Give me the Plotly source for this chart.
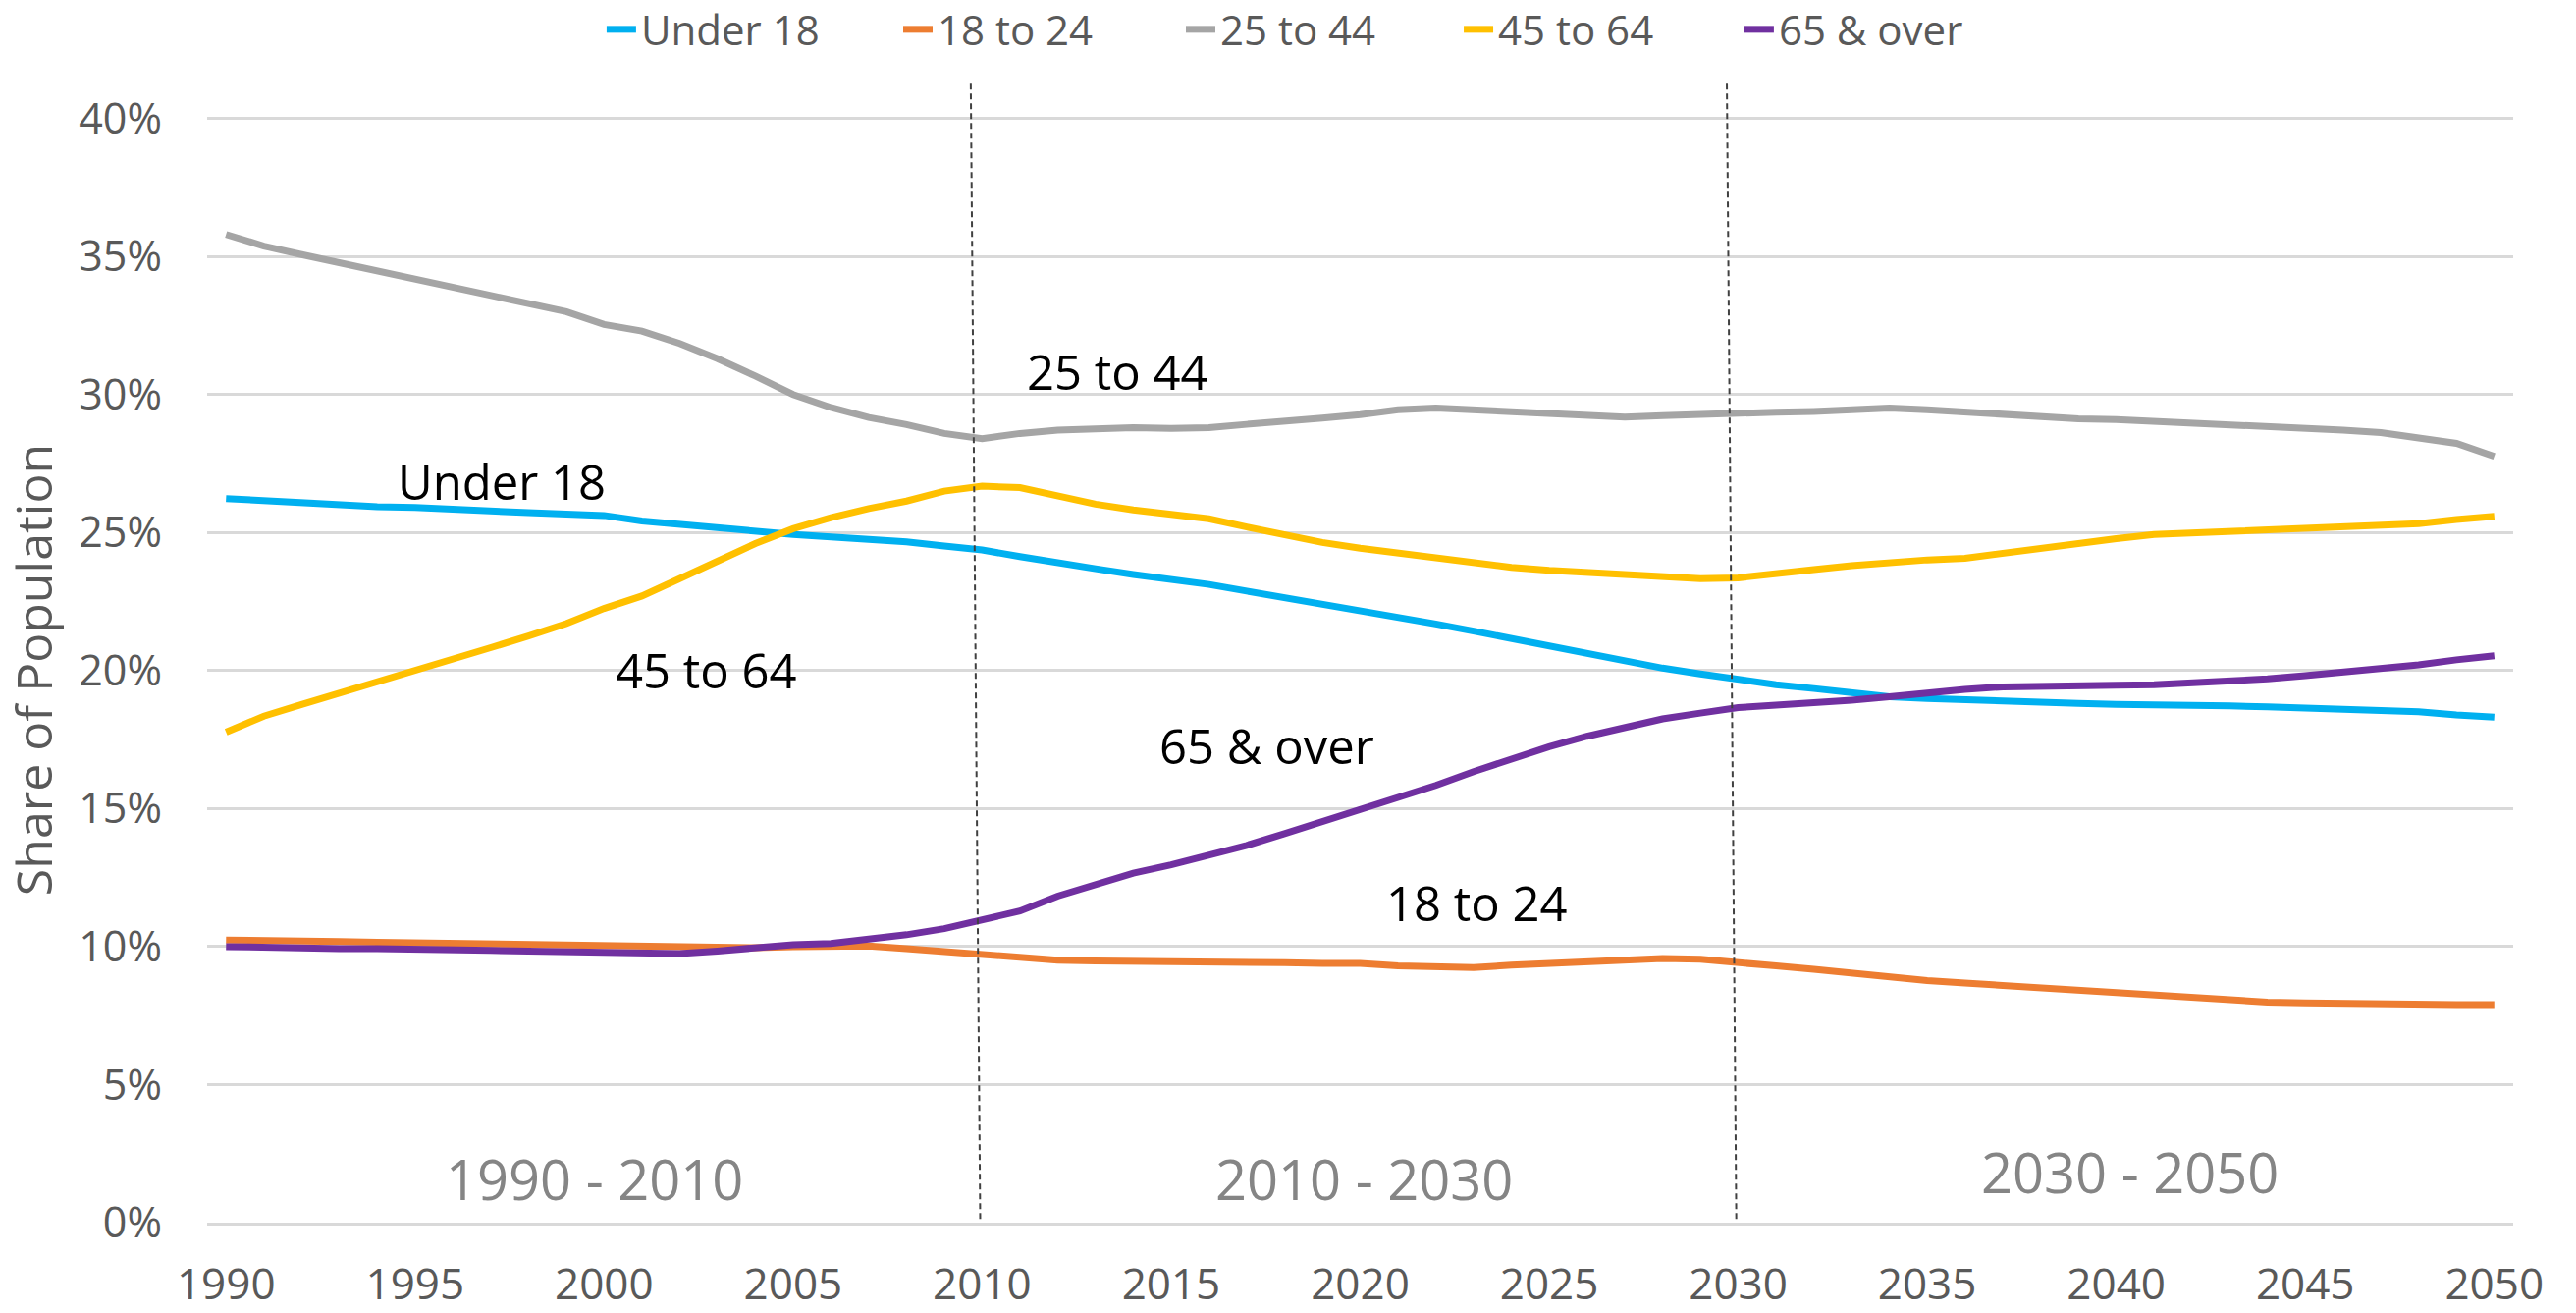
import plotly.graph_objects as go

years = list(range(1990, 2051))

under_18 = [26.23, 26.16, 26.05, 25.99, 25.94, 25.91, 25.83, 25.78, 25.72, 25.67,
            25.62, 25.42, 25.29, 25.14, 25.00, 24.93, 24.84, 24.78, 24.66, 24.51,
            24.37, 24.13, 23.89, 23.69, 23.48, 23.33, 23.12, 22.88, 22.65, 22.38,
            22.14, 21.90, 21.69, 21.43, 21.16, 20.89, 20.59, 20.33, 20.09, 19.88,
            19.67, 19.49, 19.35, 19.20, 19.05, 18.99, 18.93, 18.87, 18.84, 18.81,
            18.78, 18.78, 18.75, 18.72, 18.69, 18.66, 18.63, 18.57, 18.51, 18.39,
            18.31]

age_18_24 = [10.24, 10.24, 10.22, 10.18, 10.16, 10.14, 10.13, 10.09, 10.07, 10.05,
             10.02, 9.98, 9.96, 9.95, 9.96, 10.00, 10.02, 10.02, 9.93, 9.82,
             9.75, 9.63, 9.51, 9.48, 9.48, 9.42, 9.42, 9.42, 9.42, 9.39,
             9.39, 9.30, 9.24, 9.24, 9.33, 9.39, 9.48, 9.57, 9.57, 9.54,
             9.45, 9.30, 9.18, 9.03, 8.89, 8.77, 8.68, 8.59, 8.50, 8.38,
             8.32, 8.20, 8.11, 8.05, 7.99, 7.96, 7.93, 7.90, 7.90, 7.90,
             7.90]

age_25_44 = [35.80, 35.38, 35.07, 34.78, 34.46, 34.17, 33.88, 33.59, 33.30, 33.00,
             32.54, 32.30, 31.85, 31.30, 30.67, 30.00, 29.53, 29.17, 28.91, 28.59,
             28.40, 28.59, 28.71, 28.77, 28.80, 28.77, 28.80, 28.92, 29.06, 29.15,
             29.27, 29.45, 29.51, 29.45, 29.39, 29.30, 29.21, 29.18, 29.24, 29.30,
             29.30, 29.36, 29.39, 29.45, 29.51, 29.45, 29.36, 29.27, 29.21, 29.12,
             29.09, 29.03, 28.98, 28.95, 28.89, 28.80, 28.71, 28.62, 28.44, 28.23,
             27.76]

age_45_64 = [17.77, 18.35, 18.77, 19.17, 19.57, 19.98, 20.43, 20.83, 21.25, 21.70,
             22.25, 22.70, 23.33, 23.97, 24.60, 25.14, 25.54, 25.87, 26.14, 26.50,
             26.68, 26.63, 26.33, 26.03, 25.82, 25.68, 25.50, 25.20, 24.90, 24.64,
             24.43, 24.25, 24.07, 23.89, 23.74, 23.63, 23.54, 23.45, 23.39, 23.33,
             23.36, 23.54, 23.66, 23.80, 23.92, 24.01, 24.07, 24.25, 24.43, 24.64,
             24.78, 24.93, 24.99, 25.05, 25.11, 25.17, 25.20, 25.23, 25.32, 25.47,
             25.59]

age_65_over = [10.00, 9.96, 9.96, 9.93, 9.93, 9.89, 9.89, 9.86, 9.84, 9.82,
               9.78, 9.75, 9.75, 9.84, 9.96, 10.07, 10.11, 10.25, 10.43, 10.65,
               10.96, 11.29, 11.83, 12.24, 12.66, 12.96, 13.31, 13.67, 14.09, 14.53,
               14.98, 15.39, 15.84, 16.34, 16.79, 17.24, 17.62, 17.95, 18.25, 18.46,
               18.66, 18.75, 18.81, 18.93, 19.05, 19.20, 19.32, 19.41, 19.41, 19.44,
               19.47, 19.49, 19.55, 19.58, 19.70, 19.82, 19.94, 20.06, 20.21, 20.39,
               20.54]

series_names = ["Under 18", "18 to 24", "25 to 44", "45 to 64", "65 & over"]
series_values = [under_18, age_18_24, age_25_44, age_45_64, age_65_over]
series_colors = ["#00B0F0", "#ED7D31", "#A5A5A5", "#FFC000", "#7030A0"]

x_tick_vals = list(range(1990, 2051, 5))
y_tick_vals = list(range(0, 41, 5))
y_tick_text = [f"{v}%" for v in y_tick_vals]

period_breaks = [2010, 2030]
period_labels = ["1990 - 2010", "2010 - 2030", "2030 - 2050"]
period_label_x = [1999.75, 2020.1, 2040.35]
period_label_y = [1.6, 1.6, 1.84]

line_labels = ["25 to 44", "Under 18", "45 to 64", "65 & over", "18 to 24"]
line_label_x = [2013.57, 1997.3, 2002.7, 2017.52, 2023.09]
line_label_y = [30.85, 26.86, 20.03, 17.30, 11.59]

# legend entry positions (paper x of each entry's left edge)
legend_x = [0.1711, 0.2997, 0.4223, 0.5428, 0.6645]

FONT = "Open Sans"
GREY_TEXT = "#595959"

fig = go.Figure()
legend_ids = ["legend", "legend2", "legend3", "legend4", "legend5"]
for name, vals, col, lid in zip(series_names, series_values, series_colors, legend_ids):
    fig.add_trace(go.Scatter(x=years, y=vals, mode="lines", name=name, legend=lid,
                             line=dict(color=col, width=7)))

for b in period_breaks:
    fig.add_shape(type="line", xref="x", yref="paper", x0=b - 0.3, x1=b - 0.05,
                  y0=1.03, y1=0, line=dict(color="#404040", width=2, dash="6px,4px"))

for t, x, y in zip(period_labels, period_label_x, period_label_y):
    fig.add_annotation(x=x, y=y, xref="x", yref="y", text=t, showarrow=False,
                       font=dict(family=FONT, size=56, color="#858585"))

for t, x, y in zip(line_labels, line_label_x, line_label_y):
    fig.add_annotation(x=x, y=y, xref="x", yref="y", text=t, showarrow=False,
                       font=dict(family=FONT, size=49, color="#000000"))

legend_layout = {}
for lid, lx in zip(legend_ids, legend_x):
    legend_layout[lid] = dict(orientation="h", x=lx, xanchor="left", y=1.079,
                              yanchor="middle", bgcolor="rgba(0,0,0,0)",
                              font=dict(family=FONT, size=42, color=GREY_TEXT))

fig.update_layout(
    width=2624, height=1337,
    margin=dict(l=211, r=64, t=119, b=92, autoexpand=False),
    paper_bgcolor="white", plot_bgcolor="white",
    font=dict(family=FONT, color=GREY_TEXT),
    showlegend=True,
    xaxis=dict(range=[1989.5, 2050.5], tickmode="array", tickvals=x_tick_vals,
               showgrid=False, zeroline=False, showline=True, linecolor="#D9D9D9",
               linewidth=3, ticks="", ticklabelstandoff=22, automargin=False,
               tickfont=dict(family=FONT, size=44, color=GREY_TEXT)),
    yaxis=dict(range=[0, 40.06], tickmode="array", tickvals=y_tick_vals,
               ticktext=y_tick_text, showgrid=True, gridcolor="#D9D9D9", gridwidth=2.5,
               zeroline=False, showline=False, ticks="", ticklabelstandoff=45,
               automargin=False,
               tickfont=dict(family=FONT, size=43, color=GREY_TEXT),
               title=dict(text="Share of Population", standoff=20,
                          font=dict(family=FONT, size=50, color=GREY_TEXT))),
    **legend_layout,
)

fig.write_html("out.html", config={"displayModeBar": False},
               post_script="document.body.style.margin='0px';")
